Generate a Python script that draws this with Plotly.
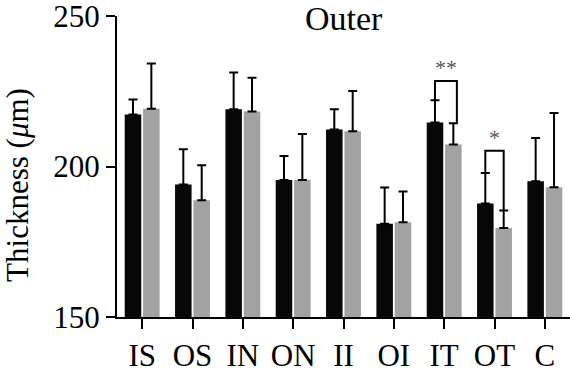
import plotly.graph_objects as go

categories = ["IS", "OS", "IN", "ON", "II", "OI", "IT", "OT", "C"]
group1_mean = [217.3, 194.0, 219.0, 195.5, 212.3, 181.0, 214.6, 187.7, 195.1]
group1_err = [5.0, 11.7, 12.2, 8.0, 6.7, 12.0, 7.4, 10.1, 14.4]
group2_mean = [219.2, 188.8, 218.3, 195.5, 211.7, 181.5, 207.3, 179.6, 193.1]
group2_err = [15.0, 11.6, 11.2, 15.3, 13.4, 10.2, 7.1, 5.8, 24.7]
y_ticks = [150, 200, 250]

# significance brackets: category index, label, bracket top value
sig_index = [6, 7]
sig_label = ["**", "*"]
sig_top = [228.4, 205.2]

FONT = "Liberation Serif"
x_idx = list(range(len(categories)))

fig = go.Figure()
fig.add_trace(go.Bar(
    x=x_idx, y=[m - 150 for m in group1_mean], base=150,
    marker=dict(color="#070707", line=dict(width=0)),
    error_y=dict(type="data", symmetric=False, array=group1_err,
                 arrayminus=[0] * len(group1_err), color="#000000",
                 thickness=2, width=4.5),
    showlegend=False, cliponaxis=False,
))
fig.add_trace(go.Bar(
    x=x_idx, y=[m - 150 for m in group2_mean], base=150,
    marker=dict(color="#a2a2a2", line=dict(width=0)),
    error_y=dict(type="data", symmetric=False, array=group2_err,
                 arrayminus=[0] * len(group2_err), color="#000000",
                 thickness=2, width=4.5),
    showlegend=False, cliponaxis=False,
))

off = 0.1825
for i, lab, top in zip(sig_index, sig_label, sig_top):
    xl = i - off
    xr = i + off + (0.07 if lab == "**" else 0.0)
    yl = group1_mean[i] + group1_err[i]
    yr = group2_mean[i] + group2_err[i]
    fig.add_shape(type="path", xref="x", yref="y",
                  path=f"M {xl} {yl} L {xl} {top} L {xr} {top} L {xr} {yr}",
                  line=dict(color="#000000", width=2))
    fig.add_annotation(x=(xl + xr) / 2, y=top, xref="x", yref="y",
                       text=lab, showarrow=False, yanchor="bottom", yshift=-1,
                       font=dict(family=FONT, size=22, color="#555555"))

fig.add_annotation(x=0.502, y=0.993, xref="paper", yref="paper", text="Outer",
                   showarrow=False, xanchor="center", yanchor="middle",
                   font=dict(family=FONT, size=34, color="#000000"))
fig.add_annotation(x=-0.22, y=0.44, xref="paper", yref="paper",
                   text="Thickness (<i>μ</i>m)", textangle=-90,
                   showarrow=False, xanchor="center", yanchor="middle",
                   font=dict(family=FONT, size=31, color="#000000"))

fig.update_layout(
    width=570, height=374,
    margin=dict(l=117, r=0, t=16, b=57, autoexpand=False),
    paper_bgcolor="white", plot_bgcolor="white",
    barmode="group", bargap=0.27, bargroupgap=0.1,
    font=dict(family=FONT, size=30, color="#000000"),
)
fig.update_xaxes(
    range=[-0.5, 8.5], tickmode="array", tickvals=x_idx, ticktext=categories,
    showline=True, linecolor="#000000", linewidth=2,
    ticks="outside", ticklen=10, tickwidth=2, tickcolor="#000000",
    showgrid=False, zeroline=False, automargin=False,
    ticklabeloverflow="allow",
    tickfont=dict(family=FONT, size=31, color="#000000"),
)
fig.update_yaxes(
    range=[150, 250], tickmode="array", tickvals=y_ticks,
    showline=True, linecolor="#000000", linewidth=2,
    ticks="outside", ticklen=9, tickwidth=2, tickcolor="#000000",
    showgrid=False, zeroline=False, automargin=False,
    ticklabeloverflow="allow",
    tickfont=dict(family=FONT, size=31, color="#000000"),
)

fig.write_html(
    "out.html",
    config={"displayModeBar": False},
    post_script="document.body.style.margin='0';document.body.style.padding='0';",
)
